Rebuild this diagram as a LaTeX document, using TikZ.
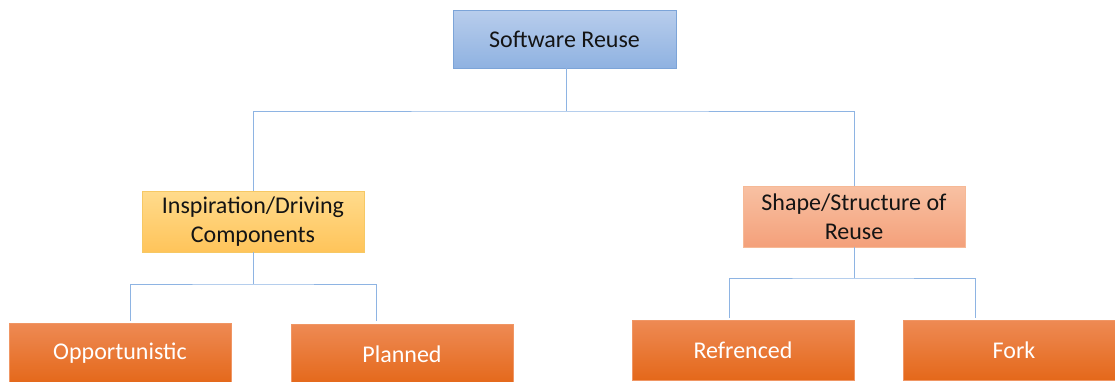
\documentclass[tikz,border=0pt]{standalone}
\usepackage{fontspec}
\setmainfont{Carlito}
\begin{document}
\begin{tikzpicture}[x=1pt,y=1pt,
  conn/.style={draw={rgb,255:red,142;green,180;blue,227}, line width=1pt},
  box/.style={minimum width=222pt, minimum height=60pt, inner sep=0pt, align=center, font=\fontsize{24}{29}\selectfont},
  bluebox/.style={box, draw={rgb,255:red,124;green,164;blue,216}, top color={rgb,255:red,184;green,205;blue,236}, bottom color={rgb,255:red,143;green,178;blue,225}, text={rgb,255:red,20;green,20;blue,20}},
  yellowbox/.style={box, draw={rgb,255:red,246;green,200;blue,100}, top color={rgb,255:red,255;green,219;blue,140}, bottom color={rgb,255:red,255;green,196;blue,90}, text={rgb,255:red,20;green,20;blue,20}},
  salmonbox/.style={box, draw={rgb,255:red,246;green,185;blue,150}, top color={rgb,255:red,248;green,193;blue,163}, bottom color={rgb,255:red,244;green,160;blue,122}, text={rgb,255:red,20;green,20;blue,20}},
  orangebox/.style={box, draw={rgb,255:red,240;green,150;blue,100}, top color={rgb,255:red,238;green,138;blue,84}, middle color={rgb,255:red,244;green,121;blue,38}, bottom color={rgb,255:red,228;green,104;blue,26}, text=white}
]
\useasboundingbox (0,0) rectangle (1115,-381);
\clip (0,0) rectangle (1115,-381);

\node[bluebox, minimum width=223pt, minimum height=58pt] (top) at (564.5,-39) {Software Reuse};
\node[yellowbox, minimum height=61pt] (L) at (253,-221.5) {Inspiration/Driving\\Components};
\node[salmonbox, minimum height=61pt] (R) at (854,-216.5) {Shape/Structure of\\Reuse};

\node[orangebox] (O) at (120,-353) {Opportunistic};
\node[orangebox] (P) at (402,-354) {Planned};
\node[orangebox] (F) at (743,-350) {Refrenced};
\node[orangebox] (K) at (1014,-350) {Fork};

% top level
\coordinate (j) at (566,-111);
\draw[conn] (top.south -| j) -- (j);
\draw[conn] (L.north) |- (j) -| (R.north);

% left subtree
\coordinate (jL) at (253,-284);
\coordinate (oL) at (130,-321);
\coordinate (pL) at (376,-321);
\draw[conn] (L.south) -- (jL);
\draw[conn] (oL) |- (jL) -| (pL);

% right subtree
\coordinate (jR) at (854,-278);
\coordinate (fR) at (729,-318);
\coordinate (kR) at (975,-318);
\draw[conn] (R.south) -- (jR);
\draw[conn] (fR) |- (jR) -| (kR);
\end{tikzpicture}
\end{document}
